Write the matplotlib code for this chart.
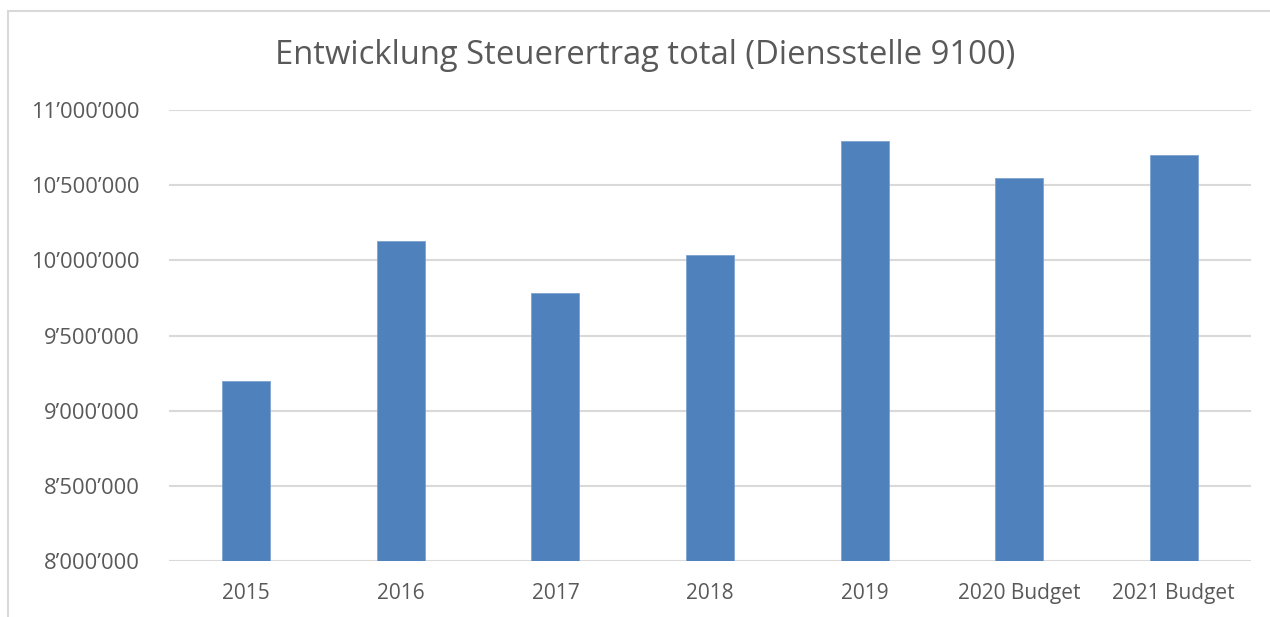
import matplotlib
matplotlib.use("Agg")
import matplotlib.pyplot as plt
from matplotlib.ticker import FuncFormatter, MultipleLocator
from matplotlib.lines import Line2D

categories = ["2015", "2016", "2017", "2018", "2019", "2020 Budget", "2021 Budget"]
values = [9197000, 10129000, 9783000, 10036000, 10794000, 10548000, 10701000]
title = "Entwicklung Steuerertrag total (Diensstelle 9100)"

plt.rcParams['font.family'] = ['Open Sans', 'DejaVu Sans']
text_color = "#595959"

W, H = 1270, 617
fig = plt.figure(figsize=(W / 100, H / 100), dpi=100)
ax = fig.add_axes([169 / W, 1 - 561 / H, (1251 - 169) / W, (561 - 110) / H])

x = range(len(categories))
ax.bar(x, values, width=0.31, color="#4F81BD", edgecolor="#7EA3D1", linewidth=0.6, zorder=3)
ax.set_xlim(-0.5, len(categories) - 0.5)
ax.set_ylim(8000000, 11000000)
ax.yaxis.set_major_locator(MultipleLocator(500000))
ax.yaxis.set_major_formatter(FuncFormatter(lambda v, p: f"{v:,.0f}".replace(",", "\u2019")))
ax.set_xticks(list(x))
ax.set_xticklabels(categories)
ax.grid(axis="y", color="#D9D9D9", linewidth=1.5, zorder=0)
for s in ax.spines.values():
    s.set_visible(False)
ax.tick_params(axis="both", length=0, colors=text_color)
ax.tick_params(axis="y", pad=21, labelsize=15.8)
ax.tick_params(axis="x", pad=16, labelsize=15)

fig.text(645 / W, 1 - 55 / H, title, ha="center", va="center", fontsize=23.6, color=text_color)

# chart frame (top and left edges visible)
fig.add_artist(Line2D([8 / W, 1], [1 - 11 / H, 1 - 11 / H], color="#D9D9D9", linewidth=1.5, transform=fig.transFigure))
fig.add_artist(Line2D([8 / W, 8 / W], [0, 1 - 11 / H], color="#D9D9D9", linewidth=1.5, transform=fig.transFigure))

fig.savefig("out.png", dpi=100, facecolor="white")
